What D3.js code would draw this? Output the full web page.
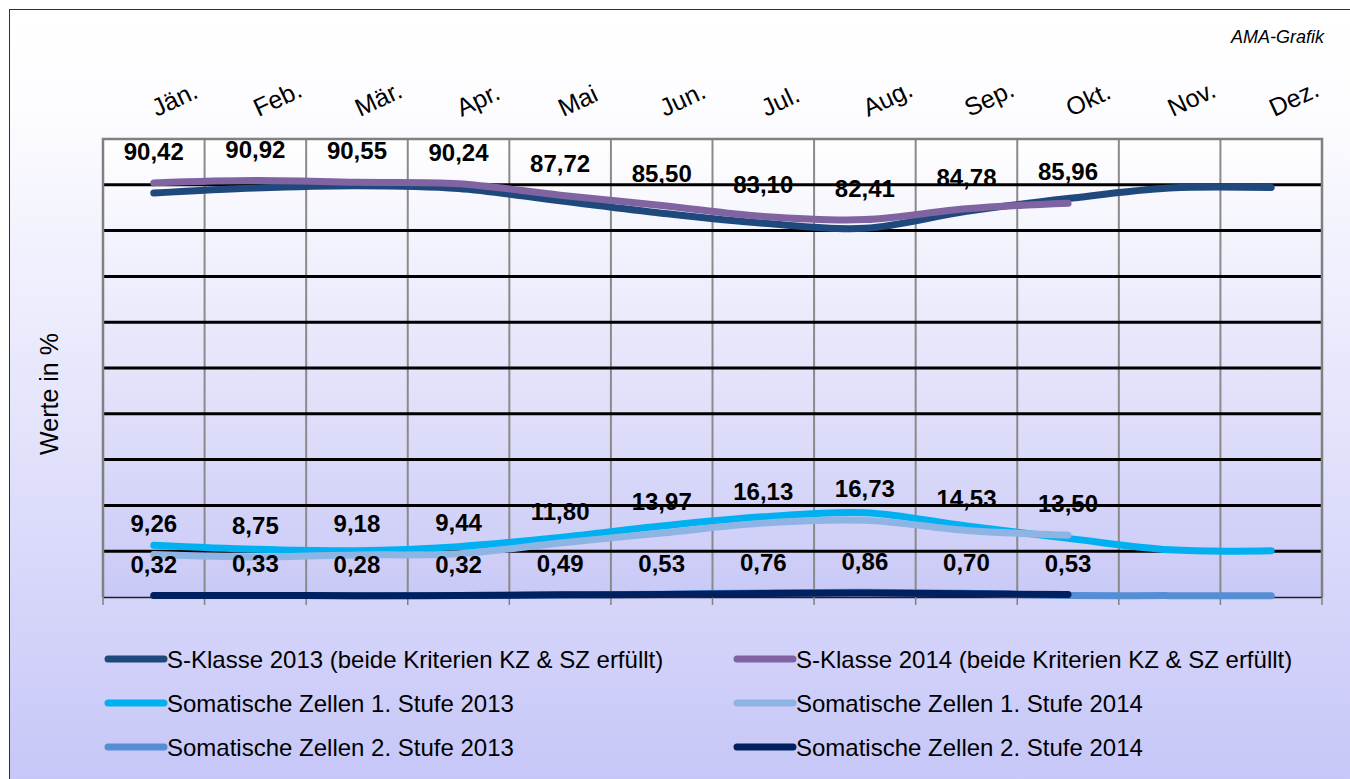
<!DOCTYPE html>
<html>
<head>
<meta charset="utf-8">
<script src="https://cdn.jsdelivr.net/npm/d3@7"></script>
<style>
  html, body { margin: 0; padding: 0; background: #fff; }
  svg { display: block; font-family: Arial, "Liberation Sans", sans-serif; }
</style>
</head>
<body>
<div id="chart"></div>
<script>
// Data
const months = ["Jän.", "Feb.", "Mär.", "Apr.", "Mai", "Jun.", "Jul.", "Aug.", "Sep.", "Okt.", "Nov.", "Dez."];
const sKlasse2013 = [88.2, 89.3, 89.8, 89.2, 86.5, 83.8, 81.6, 80.5, 84.2, 87.0, 89.3, 89.4];
const sKlasse2014 = [90.42, 90.92, 90.55, 90.24, 87.72, 85.50, 83.10, 82.41, 84.78, 85.96];
const somZ1_2013 = [11.3, 10.4, 10.1, 11.0, 13.0, 15.5, 17.5, 18.4, 15.5, 12.8, 10.3, 10.1];
const somZ1_2014 = [9.26, 8.75, 9.18, 9.44, 11.80, 13.97, 16.13, 16.73, 14.53, 13.50];
const somZ2_2013 = [0.35, 0.33, 0.30, 0.33, 0.45, 0.60, 0.90, 1.05, 0.80, 0.35, 0.30, 0.30];
const somZ2_2014 = [0.32, 0.33, 0.28, 0.32, 0.49, 0.53, 0.76, 0.86, 0.70, 0.53];
const seriesNames = [
  "S-Klasse 2013 (beide Kriterien KZ & SZ erfüllt)",
  "S-Klasse 2014 (beide Kriterien KZ & SZ erfüllt)",
  "Somatische Zellen 1. Stufe 2013",
  "Somatische Zellen 1. Stufe 2014",
  "Somatische Zellen 2. Stufe 2013",
  "Somatische Zellen 2. Stufe 2014"
];

const colors = ["#1f497d", "#8064a2", "#00b0f0", "#8eb4e3", "#558ed5", "#002060"];
const series = [sKlasse2013, sKlasse2014, somZ1_2013, somZ1_2014, somZ2_2013, somZ2_2014]
  .map((values, i) => ({ name: seriesNames[i], values, color: colors[i], labels: i % 2 === 1 }));

const W = 1350, H = 779;
const plot = { left: 103, right: 1322, top: 139, bottom: 597 };

const svg = d3.select("#chart").append("svg")
  .attr("width", W)
  .attr("height", H);

// Backgrounds
const defs = svg.append("defs");
const bgGrad = defs.append("linearGradient").attr("id", "bgGrad")
  .attr("x1", 0).attr("y1", 0).attr("x2", 0).attr("y2", 1);
bgGrad.append("stop").attr("offset", "0%").attr("stop-color", "#ffffff");
bgGrad.append("stop").attr("offset", "12%").attr("stop-color", "#fdfdff");
bgGrad.append("stop").attr("offset", "100%").attr("stop-color", "#c6c6f8");

const plotGrad = defs.append("linearGradient").attr("id", "plotGrad")
  .attr("x1", 0).attr("y1", 0).attr("x2", 0).attr("y2", 1);
plotGrad.append("stop").attr("offset", "0%").attr("stop-color", "#ffffff");
plotGrad.append("stop").attr("offset", "100%").attr("stop-color", "#c9c9f7");

svg.append("rect")
  .attr("x", 9.5).attr("y", 9.5)
  .attr("width", W).attr("height", H)
  .attr("fill", "url(#bgGrad)")
  .attr("stroke", "#303030")
  .attr("stroke-width", 1);

svg.append("rect")
  .attr("x", plot.left).attr("y", plot.top)
  .attr("width", plot.right - plot.left).attr("height", plot.bottom - plot.top)
  .attr("fill", "url(#plotGrad)");

// Scales
const x = d3.scaleBand()
  .domain(months)
  .range([plot.left, plot.right])
  .padding(0);

const y = d3.scaleLinear()
  .domain([0, 100])
  .range([plot.bottom, plot.top]);

const cx = m => x(m) + x.bandwidth() / 2;

// Vertical gridlines (category boundaries)
svg.append("g")
  .selectAll("line")
  .data(months.slice(1))
  .join("line")
  .attr("x1", d => x(d)).attr("x2", d => x(d))
  .attr("y1", plot.top).attr("y2", plot.bottom)
  .attr("stroke", "#8a8a8a")
  .attr("stroke-width", 2);

// Horizontal gridlines
svg.append("g")
  .selectAll("line")
  .data(d3.range(10, 100, 10))
  .join("line")
  .attr("x1", plot.left).attr("x2", plot.right)
  .attr("y1", d => y(d)).attr("y2", d => y(d))
  .attr("stroke", "#000")
  .attr("stroke-width", 3);

// Plot border (left, top, right)
svg.append("path")
  .attr("d", `M${plot.left},${plot.bottom}V${plot.top}H${plot.right}V${plot.bottom}`)
  .attr("fill", "none")
  .attr("stroke", "#808080")
  .attr("stroke-width", 2.5);

// Bottom axis with ticks at boundaries
const xAxis = svg.append("g")
  .attr("transform", `translate(0,${plot.bottom})`)
  .call(d3.axisBottom(x).tickSize(0).tickFormat(""));
xAxis.select(".domain").attr("stroke", "#202020").attr("stroke-width", 1.5);
xAxis.selectAll(".bt")
  .data(d3.range(months.length + 1))
  .join("line")
  .attr("class", "bt")
  .attr("x1", i => plot.left + i * x.bandwidth())
  .attr("x2", i => plot.left + i * x.bandwidth())
  .attr("y1", 0).attr("y2", 8)
  .attr("stroke", "#808080")
  .attr("stroke-width", 1.5);

// Month labels on top, rotated
svg.append("g")
  .selectAll("text")
  .data(months)
  .join("text")
  .attr("transform", d => `translate(${cx(d) + 3},117) rotate(-25)`)
  .attr("font-size", 25)
  .attr("fill", "#000")
  .text(d => d);

// Lines
const line = d3.line()
  .x((d, i) => cx(months[i]))
  .y(d => y(d))
  .curve(d3.curveCatmullRom.alpha(0));

svg.append("g")
  .selectAll("path")
  .data(series)
  .join("path")
  .attr("d", d => line(d.values))
  .attr("fill", "none")
  .attr("stroke", d => d.color)
  .attr("stroke-width", 7)
  .attr("stroke-linecap", "round")
  .attr("stroke-linejoin", "round");

// Data labels (2014 series)
const deFormat = v => d3.format(".2f")(v).replace(".", ",");
series.filter(s => s.labels).forEach(s => {
  svg.append("g")
    .selectAll("text")
    .data(s.values)
    .join("text")
    .attr("x", (d, i) => cx(months[i]))
    .attr("y", d => y(d) - 23)
    .attr("text-anchor", "middle")
    .attr("font-size", 24)
    .attr("font-weight", "bold")
    .attr("fill", "#000")
    .text(d => deFormat(d));
});

// Y axis title
svg.append("text")
  .attr("transform", "translate(58,394) rotate(-90)")
  .attr("text-anchor", "middle")
  .attr("font-size", 25)
  .attr("fill", "#000")
  .text("Werte in %");

// Source note
svg.append("text")
  .attr("x", 1324).attr("y", 43)
  .attr("text-anchor", "end")
  .attr("font-size", 18)
  .attr("font-style", "italic")
  .attr("fill", "#000")
  .text("AMA-Grafik");

// Legend
const legendCols = [108, 737];
const legendRows = [659, 703, 747];
const legend = svg.append("g")
  .selectAll("g")
  .data(series)
  .join("g")
  .attr("transform", (d, i) => `translate(${legendCols[i % 2]},${legendRows[Math.floor(i / 2)]})`);
legend.append("line")
  .attr("x1", 0).attr("x2", 56)
  .attr("stroke", d => d.color)
  .attr("stroke-width", 7)
  .attr("stroke-linecap", "round");
legend.append("text")
  .attr("x", 59).attr("y", 8.5)
  .attr("font-size", 24)
  .attr("fill", "#000")
  .text(d => d.name);
</script>
</body>
</html>
